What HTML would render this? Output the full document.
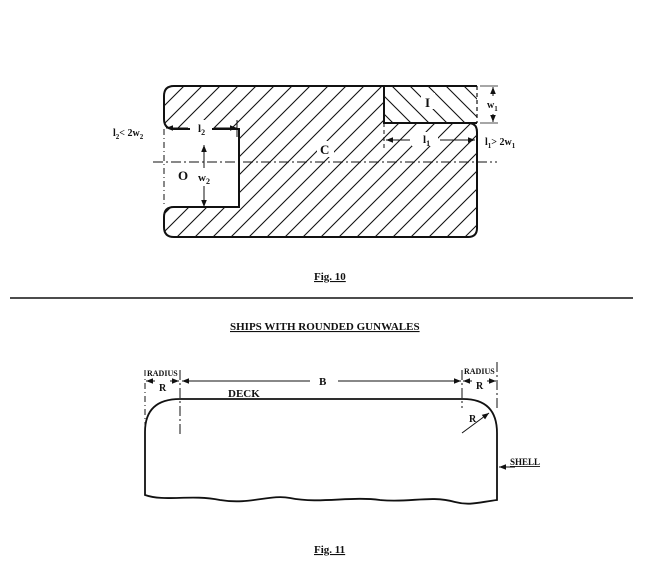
<!DOCTYPE html>
<html><head><style>
html,body{margin:0;padding:0;background:#fff;width:660px;height:573px;overflow:hidden}
text{font-family:"Liberation Serif",serif;font-weight:bold;fill:#111}
</style></head><body>
<svg width="660" height="573" viewBox="0 0 660 573" xmlns="http://www.w3.org/2000/svg">
<defs>
<pattern id="h1" width="18" height="18" patternUnits="userSpaceOnUse">
<path d="M0,18 L18,0 M-9,9 L9,-9 M9,27 L27,9" stroke="#111" stroke-width="1.1"/></pattern>
<pattern id="h2" width="18" height="18" patternUnits="userSpaceOnUse">
<path d="M0,0 L18,18 M-9,9 L9,27 M9,-9 L27,9" stroke="#111" stroke-width="1.1"/></pattern>
<marker id="a" viewBox="0 0 10 10" refX="10" refY="5" markerWidth="7" markerHeight="7" orient="auto-start-reverse"><path d="M0,1 L10,5 L0,9z" fill="#111"/></marker>
</defs>
<!-- Fig 10 -->
<path d="M174,86 L384,86 L384,123 L468,123 Q477,123 477,132 L477,228 Q477,237 468,237 L174,237 Q164,237 164,227 L164,217 Q164,207 174,207 L239,207 L239,129 L174,129 Q164,129 164,119 L164,96 Q164,86 174,86 Z" fill="url(#h1)" stroke="#111" stroke-width="2"/>
<path d="M384,86 L477,86 L477,123 L384,123 Z" fill="url(#h2)" stroke="none"/>
<path d="M384,86 L477,86" stroke="#111" stroke-width="2"/>
<path d="M384,86 L384,123 L477,123" stroke="#111" stroke-width="2" fill="none"/>
<line x1="477" y1="86" x2="477" y2="123" stroke="#111" stroke-width="1.2" stroke-dasharray="4,3"/>
<line x1="164" y1="129" x2="164" y2="207" stroke="#111" stroke-width="1" stroke-dasharray="6,3,1,3"/>
<line x1="153" y1="162" x2="497" y2="162" stroke="#111" stroke-width="1" stroke-dasharray="10,3,2,3"/>
<line x1="384" y1="123" x2="384" y2="150" stroke="#111" stroke-width="1" stroke-dasharray="4,3"/>
<rect x="176" y="166" width="20" height="16" fill="#fff"/>
<text x="178" y="180" font-size="13">O</text>
<rect x="317" y="141" width="17" height="16" fill="#fff"/>
<text x="320" y="154" font-size="13">C</text>
<rect x="421" y="93" width="14" height="16" fill="#fff"/>
<text x="425" y="107" font-size="13">I</text>
<!-- dims -->
<line x1="188" y1="128" x2="166" y2="128" stroke="#111" marker-end="url(#a)"/>
<line x1="215" y1="128" x2="237" y2="128" stroke="#111" marker-end="url(#a)"/>
<line x1="237" y1="120" x2="237" y2="137" stroke="#111"/>
<rect x="190" y="120" width="22" height="14" fill="#fff"/>
<text x="198" y="132" font-size="11">l<tspan font-size="8" dy="3">2</tspan></text>
<line x1="204" y1="168" x2="204" y2="145" stroke="#111" marker-end="url(#a)"/>
<line x1="204" y1="186" x2="204" y2="207" stroke="#111" marker-end="url(#a)"/>
<text x="198" y="181" font-size="11">w<tspan font-size="8" dy="3">2</tspan></text>
<line x1="410" y1="140" x2="386" y2="140" stroke="#111" marker-end="url(#a)"/>
<line x1="440" y1="140" x2="475" y2="140" stroke="#111" marker-end="url(#a)"/>
<rect x="412" y="132" width="26" height="14" fill="#fff"/>
<text x="423" y="143" font-size="11">l<tspan font-size="8" dy="3">1</tspan></text>
<line x1="480" y1="86" x2="498" y2="86" stroke="#111" stroke-width="0.8"/>
<line x1="480" y1="123" x2="498" y2="123" stroke="#111" stroke-width="0.8"/>
<line x1="493" y1="96" x2="493" y2="87" stroke="#111" marker-end="url(#a)"/>
<line x1="493" y1="114" x2="493" y2="122" stroke="#111" marker-end="url(#a)"/>
<text x="487" y="108" font-size="10">w<tspan font-size="7" dy="3">1</tspan></text>
<text x="113" y="136" font-size="10">l<tspan font-size="7" dy="3">2</tspan><tspan dy="-3">&lt; 2w</tspan><tspan font-size="7" dy="3">2</tspan></text>
<text x="485" y="145" font-size="10">l<tspan font-size="7" dy="3">1</tspan><tspan dy="-3">&gt; 2w</tspan><tspan font-size="7" dy="3">1</tspan></text>
<text x="314" y="280" font-size="11" text-decoration="underline">Fig. 10</text>
<line x1="10" y1="298" x2="633" y2="298" stroke="#111" stroke-width="1.5"/>
<text x="230" y="330" font-size="11" text-decoration="underline">SHIPS WITH ROUNDED GUNWALES</text>
<!-- Fig 11 -->
<path d="M145,495 L145,432 Q145,399 180,399 L463,399 Q497,399 497,433 L497,500 C480,502 470,506 455,502 C430,495 410,503 380,500 C350,496 320,504 290,498 C270,494 250,505 220,500 C190,494 165,502 145,495 Z" fill="none" stroke="#111" stroke-width="1.8"/>
<line x1="145" y1="370" x2="145" y2="425" stroke="#111" stroke-dasharray="6,3,1,3"/>
<line x1="180" y1="370" x2="180" y2="435" stroke="#111" stroke-dasharray="10,3,2,3"/>
<line x1="462" y1="370" x2="462" y2="408" stroke="#111" stroke-dasharray="10,3,2,3"/>
<line x1="497" y1="362" x2="497" y2="410" stroke="#111" stroke-dasharray="10,3,2,3"/>
<line x1="155" y1="381" x2="146" y2="381" stroke="#111" marker-end="url(#a)"/>
<line x1="170" y1="381" x2="179" y2="381" stroke="#111" marker-end="url(#a)"/>
<line x1="310" y1="381" x2="182" y2="381" stroke="#111" marker-end="url(#a)"/>
<line x1="338" y1="381" x2="461" y2="381" stroke="#111" marker-end="url(#a)"/>
<line x1="472" y1="381" x2="463" y2="381" stroke="#111" marker-end="url(#a)"/>
<line x1="487" y1="381" x2="496" y2="381" stroke="#111" marker-end="url(#a)"/>
<text x="147" y="376" font-size="8">RADIUS</text>
<text x="159" y="391" font-size="10">R</text>
<text x="319" y="385" font-size="11">B</text>
<text x="464" y="374" font-size="8">RADIUS</text>
<text x="476" y="389" font-size="10">R</text>
<text x="228" y="397" font-size="11">DECK</text>
<line x1="462" y1="433" x2="489" y2="413" stroke="#111" marker-end="url(#a)"/>
<text x="469" y="422" font-size="10">R</text>
<line x1="515" y1="467" x2="499" y2="467" stroke="#111" marker-end="url(#a)"/>
<text x="510" y="465" font-size="9" text-decoration="underline">SHELL</text>
<text x="314" y="553" font-size="11" text-decoration="underline">Fig. 11</text>
</svg>
</body></html>
